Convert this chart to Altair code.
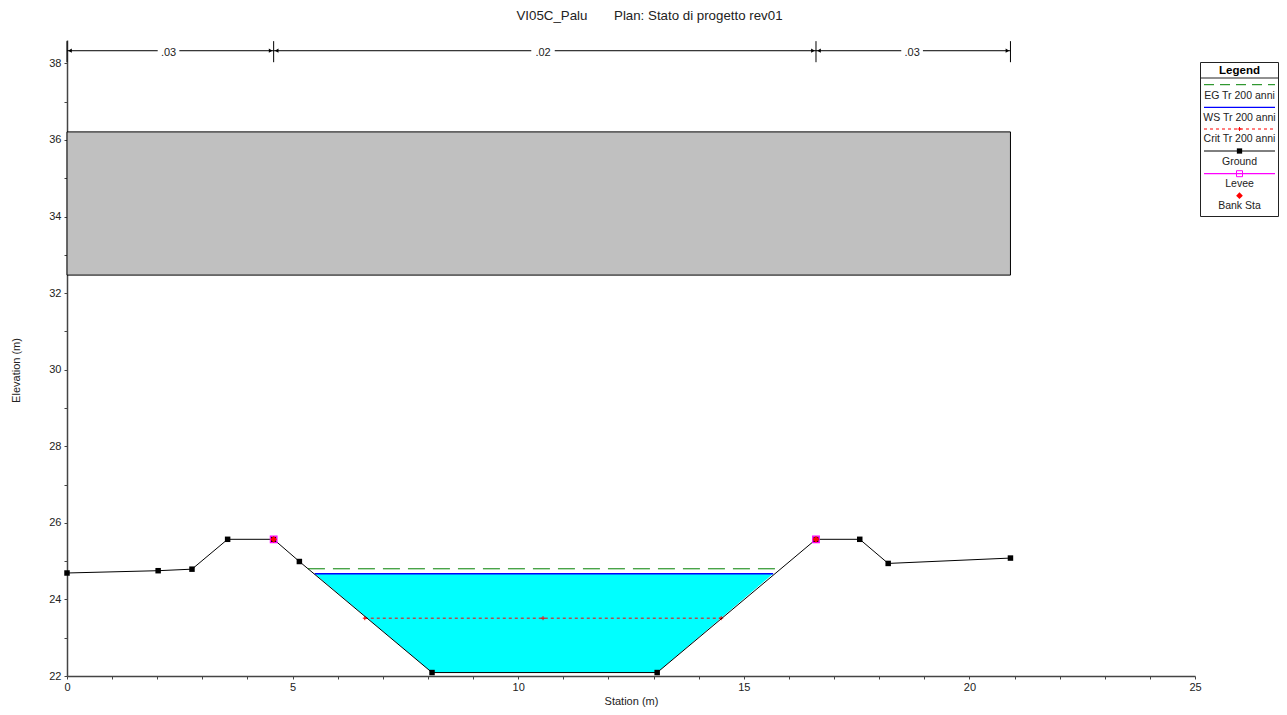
import altair as alt
import pandas as pd

FONT = "Liberation Sans"
TEXT = "#222222"

ground_x = [0, 2.02, 2.77, 3.56, 4.58, 5.15, 8.09, 13.08, 16.6, 17.57, 18.2, 20.91]
ground_y = [24.69, 24.75, 24.79, 25.57, 25.57, 24.99, 22.09, 22.09, 25.57, 25.57, 24.94, 25.08]
water_x = [5.49, 8.09, 13.08, 15.65]
water_bottom = [24.67, 22.09, 22.09, 24.67]
ws_level = 24.67
eg_x = [5.34, 15.71]
eg_level = 24.8
crit_x = [6.6, 10.55, 14.5]
crit_level = 23.51
bank_x = [4.58, 16.6]
bank_y = [25.57, 25.57]
deck_x = [0, 20.91]
deck_y = [32.47, 36.21]
n_starts = [0, 4.58, 16.6]
n_ends = [4.58, 16.6, 20.91]
n_labels = [".03", ".02", ".03"]
n_centers = [2.25, 10.55, 18.73]
n_gap = [0.24, 0.26, 0.24]
n_marks = [0, 4.58, 16.6, 20.91]
n_level = 38.33
n_mark_low, n_mark_high = 38.03, 38.58
x_ticks = list(range(0, 26))
y_ticks = list(range(22, 39))

xs = alt.Scale(domain=[0, 25], nice=False, zero=False)
ys = alt.Scale(domain=[22, 38.61], nice=False, zero=False)
ax = dict(grid=False, domainColor="#444444", domainWidth=1.5, tickColor="#444444", tickWidth=1, tickSize=3,
          labelFont=FONT, labelFontSize=11, labelColor=TEXT, titleFont=FONT, titleFontSize=11,
          titleFontWeight="normal", titleColor=TEXT, labelFlush=False)
x_axis = alt.Axis(values=x_ticks, labelExpr="datum.value % 5 == 0 ? datum.label : ''", title="Station (m)",
                  labelPadding=2, labelAngle=0, titleX=564, titleY=19, labelOverlap=False, **ax)
y_axis = alt.Axis(values=y_ticks, labelExpr="datum.value % 2 == 0 ? datum.label : ''", title="Elevation (m)",
                  labelPadding=3, titleX=-46, titleY=330, labelOverlap=False, **ax)


def X(f):
    return alt.X(f, type="quantitative", scale=xs, axis=x_axis)


def Y(f):
    return alt.Y(f, type="quantitative", scale=ys, axis=y_axis)


ground = pd.DataFrame({"x": ground_x, "y": ground_y})
water = pd.DataFrame({"x": water_x, "bottom": water_bottom, "top": [ws_level] * len(water_x)})
deck = pd.DataFrame({"x": [deck_x[0]], "x2": [deck_x[1]], "y": [deck_y[0]], "y2": [deck_y[1]]})
eg = pd.DataFrame({"x": [eg_x[0]], "x2": [eg_x[1]], "y": [eg_level]})
ws = pd.DataFrame({"x": [water_x[0]], "x2": [water_x[-1]], "y": [ws_level]})
crit = pd.DataFrame({"x": crit_x, "y": [crit_level] * len(crit_x)})
crit_rule = pd.DataFrame({"x": [crit_x[0]], "x2": [crit_x[-1]], "y": [crit_level]})
bank = pd.DataFrame({"x": bank_x, "y": bank_y})
n_seg = pd.DataFrame({"x": n_starts, "x2": n_ends, "y": [n_level] * 3})
n_mark = pd.DataFrame({"x": n_marks, "y": [n_mark_low] * 4, "y2": [n_mark_high] * 4})
n_text = pd.DataFrame({"x": n_centers, "y": [n_level] * 3, "t": n_labels,
                       "l": [c - g for c, g in zip(n_centers, n_gap)],
                       "r": [c + g for c, g in zip(n_centers, n_gap)]})
PLUS = "M-1,0L1,0M0,-1L0,1"

plot_layers = [
    alt.Chart(deck).mark_rect(fill="#C0C0C0", stroke="black", strokeWidth=1).encode(
        x=X("x"), x2="x2", y=Y("y"), y2="y2"),
    alt.Chart(water).mark_area(color="#00FFFF", opacity=1).encode(x=X("x"), y=Y("top"), y2="bottom"),
    alt.Chart(eg).mark_rule(color="#008000", strokeWidth=1, strokeDash=[17, 8]).encode(x=X("x"), x2="x2", y=Y("y")),
    alt.Chart(ws).mark_rule(color="#0000FF", strokeWidth=1.5).encode(x=X("x"), x2="x2", y=Y("y")),
    alt.Chart(crit_rule).mark_rule(color="#FF0000", strokeWidth=1, strokeDash=[3, 3]).encode(x=X("x"), x2="x2", y=Y("y")),
    alt.Chart(crit).mark_point(shape=PLUS, color="#FF0000", size=16, strokeWidth=1, opacity=1).encode(x=X("x"), y=Y("y")),
    alt.Chart(ground).mark_line(color="black", strokeWidth=1).encode(x=X("x"), y=Y("y")),
    alt.Chart(ground).mark_point(shape="square", filled=True, color="black", size=30, opacity=1).encode(x=X("x"), y=Y("y")),
    alt.Chart(bank).mark_point(shape="square", filled=False, color="#FF00FF", size=42, strokeWidth=1.3, opacity=1).encode(x=X("x"), y=Y("y")),
    alt.Chart(bank).mark_point(shape="diamond", filled=True, color="#FF0000", size=45, opacity=1).encode(x=X("x"), y=Y("y")),
    alt.Chart(n_seg).mark_rule(color="black", strokeWidth=1).encode(x=X("x"), x2="x2", y=Y("y")),
    alt.Chart(n_text).mark_rect(fill="white").encode(
        x=X("l"), x2="r", y=alt.value(5), y2=alt.value(17)),
    alt.Chart(n_text).mark_text(font=FONT, fontSize=11, color=TEXT, baseline="middle", dy=2).encode(
        x=X("x"), y=Y("y"), text="t"),
    alt.Chart(n_mark).mark_rule(color="black", strokeWidth=1).encode(x=X("x"), y=Y("y"), y2="y2"),
    alt.Chart(n_seg).mark_point(shape="triangle-left", filled=True, color="black", size=18, xOffset=3, opacity=1).encode(x=X("x"), y=Y("y")),
    alt.Chart(n_seg).mark_point(shape="triangle-right", filled=True, color="black", size=18, xOffset=-3, opacity=1).encode(x=alt.X("x2", type="quantitative", scale=xs, axis=x_axis), y=Y("y")),
]

# Legend box, laid out in plot-area pixels
OX, OY = 67, 40
bx1, bx2 = 1200.5 - OX, 1278.5 - OX
lx1, lx2 = 1204 - OX, 1275 - OX
lc = 1239.5 - OX
legend_layers = [
    alt.Chart(deck).mark_rect(fill="white", stroke="#222222", strokeWidth=1).encode(
        x=alt.value(bx1), x2=alt.value(bx2), y=alt.value(62.5 - OY), y2=alt.value(216.5 - OY)),
    alt.Chart(deck).mark_rule(color="#222222", strokeWidth=1).encode(
        x=alt.value(bx1), x2=alt.value(bx2), y=alt.value(78 - OY)),
    alt.Chart(deck).mark_text(text="Legend", font=FONT, fontSize=11.5, fontWeight="bold", color="black", baseline="middle").encode(
        x=alt.value(lc), y=alt.value(70.5 - OY)),
]
legend_lines = [
    (84.7, "#008000", [10, 6], 1),
    (107.3, "#0000FF", None, 1.2),
    (129, "#FF0000", [3, 3], 1),
    (151, "#000000", None, 1),
    (173.7, "#FF00FF", None, 1.2),
]
for y, c, dash, w in legend_lines:
    kw = {"strokeDash": dash} if dash else {}
    legend_layers.append(alt.Chart(deck).mark_rule(color=c, strokeWidth=w, **kw).encode(
        x=alt.value(lx1), x2=alt.value(lx2), y=alt.value(y - OY)))
legend_labels = [(95.7, "EG Tr 200 anni"), (117.7, "WS Tr 200 anni"), (139, "Crit Tr 200 anni"),
                 (162, "Ground"), (184, "Levee"), (205.7, "Bank Sta")]
for y, t in legend_labels:
    legend_layers.append(alt.Chart(deck).mark_text(text=t, font=FONT, fontSize=10.5, color=TEXT, baseline="middle").encode(
        x=alt.value(lc), y=alt.value(y - OY)))
legend_symbols = [
    (129, PLUS, "#FF0000", 16, False),
    (151, "square", "#000000", 28, True),
    (173.7, "square", "#FF00FF", 36, False),
    (195.7, "diamond", "#FF0000", 45, True),
]
for y, s, c, size, fill in legend_symbols:
    legend_layers.append(alt.Chart(deck).mark_point(shape=s, color=c, size=size, filled=fill, opacity=1, strokeWidth=1).encode(
        x=alt.value(lc), y=alt.value(y - OY)))

TITLE = "VI05C_Palu\u2003\u2003Plan: Stato di progetto rev01"
chart = alt.layer(*plot_layers, *legend_layers).properties(
    width=1128, height=636,
    title=alt.TitleParams(TITLE, font=FONT, fontSize=13.3, fontWeight="normal",
                          color=TEXT, anchor="middle", dx=18.5, offset=18),
    autosize=alt.AutoSizeParams(type="none"),
    padding={"left": 59, "top": 32, "right": 84, "bottom": 31},
).configure_view(stroke=None)

chart.save("out.html", embed_options={"renderer": "svg", "actions": False})
